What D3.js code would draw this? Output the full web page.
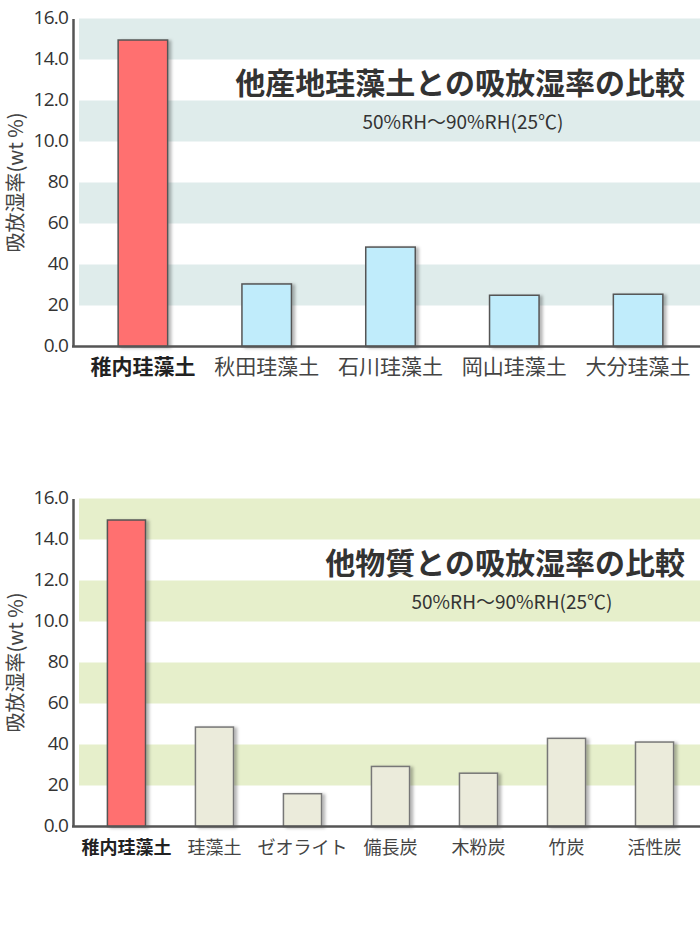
<!DOCTYPE html>
<html>
<head>
<meta charset="utf-8">
<script src="https://cdn.jsdelivr.net/npm/d3@7"></script>
<style>
  body { margin: 0; background: #fff; }
  svg { display: block; }
</style>
</head>
<body>
<div id="vis"></div>
<script>
// tick labels as printed in the original (the "80, 60..." are really 8.0, 6.0...)
let tickValues = [0, 2, 4, 6, 8, 10, 12, 14, 16];
let tickLabels = ['0.0', '20', '40', '60', '80', '10.0', '12.0', '14.0', '16.0'];
let shadedBands = [[2, 4], [6, 8], [10, 12], [14, 16]];

// chart 1 : other diatomite origins
let originNames = ['稚内珪藻土', '秋田珪藻土', '石川珪藻土', '岡山珪藻土', '大分珪藻土'];
let originValues = [14.95, 3.05, 4.85, 2.5, 2.55];

// chart 2 : other materials
let materialNames = ['稚内珪藻土', '珪藻土', 'ゼオライト', '備長炭', '木粉炭', '竹炭', '活性炭'];
let materialValues = [14.95, 4.85, 1.6, 2.93, 2.6, 4.3, 4.12];

let width = 700, height = 948;

let svg = d3.select('#vis')
  .append('svg')
  .attr('width', width)
  .attr('height', height);

// soft shadow behind the bars
let filter = svg.append('defs').append('filter')
  .attr('id', 'shadow')
  .attr('x', '-20%').attr('y', '-10%')
  .attr('width', '150%').attr('height', '130%');
filter.append('feDropShadow')
  .attr('dx', 3).attr('dy', 1)
  .attr('stdDeviation', 1.5)
  .attr('flood-color', '#000')
  .attr('flood-opacity', 0.28);

function drawPanel(opts) {
  let g = svg.append('g')
    .attr('transform', 'translate(0,' + opts.top + ')');

  let y = d3.scaleLinear().domain([0, 16]).range([328, 0]);
  let x = d3.scaleBand()
    .domain(opts.names)
    .range([81, 700])
    .paddingInner(opts.padInner)
    .paddingOuter(0.3);

  // background stripes
  g.selectAll('.band')
    .data(shadedBands)
    .enter().append('rect')
      .attr('x', 79)
      .attr('width', width - 79)
      .attr('y', d => y(d[1]))
      .attr('height', d => y(d[0]) - y(d[1]))
      .style('fill', opts.bandColor);

  // titles
  g.append('text')
    .attr('x', 685)
    .attr('y', opts.titleY)
    .attr('text-anchor', 'end')
    .style('font-family', '"Noto Sans CJK JP", sans-serif')
    .style('font-weight', 'bold')
    .style('font-size', '30px')
    .style('fill', '#333')
    .text(opts.title);

  g.append('text')
    .attr('x', opts.subX)
    .attr('y', opts.titleY + 35)
    .attr('text-anchor', 'middle')
    .style('font-family', '"Noto Sans CJK JP", sans-serif')
    .style('font-size', '19px')
    .style('fill', '#333')
    .text('50%RH〜90%RH(25℃)');

  // bars
  g.selectAll('.bar')
    .data(opts.values)
    .enter().append('rect')
      .attr('x', (d, i) => x(opts.names[i]))
      .attr('width', x.bandwidth())
      .attr('y', d => y(d))
      .attr('height', d => y(0) - y(d))
      .attr('filter', 'url(#shadow)')
      .style('fill', (d, i) => i === 0 ? '#ff7070' : opts.barColor)
      .style('stroke', (d, i) => i === 0 ? '#555' : opts.barStroke)
      .style('stroke-width', 1.5);

  // y axis
  let yAxis = g.append('g')
    .attr('transform', 'translate(73,0)')
    .call(d3.axisLeft(y)
      .tickValues(tickValues)
      .tickFormat((d, i) => tickLabels[i])
      .tickSize(0)
      .tickPadding(5));
  yAxis.select('.domain')
    .attr('stroke', '#555')
    .attr('stroke-width', 2.5);
  yAxis.selectAll('text')
    .attr('dy', '0.25em')
    .style('font-family', '"Open Sans", sans-serif')
    .style('font-size', '19px')
    .style('letter-spacing', '-0.8px')
    .style('fill', '#333');

  // x axis line + labels
  let xAxis = g.append('g')
    .attr('transform', 'translate(0,' + y(0) + ')')
    .call(d3.axisBottom(x).tickSize(0).tickPadding(opts.labelPad));
  xAxis.select('.domain').remove();
  xAxis.append('line')
    .attr('x1', 72).attr('x2', width)
    .attr('stroke', '#555')
    .attr('stroke-width', 2.5);
  xAxis.selectAll('.tick text')
    .attr('dy', '0.71em')
    .style('font-family', '"Noto Sans CJK JP", sans-serif')
    .style('font-size', opts.labelSize + 'px')
    .style('font-weight', (d, i) => i === 0 ? 'bold' : 'normal')
    .style('fill', (d, i) => i === 0 ? '#222' : '#444');

  // y title
  g.append('text')
    .attr('transform', 'translate(23,' + y(8) + ') rotate(-90)')
    .attr('text-anchor', 'middle')
    .style('font-family', '"Noto Sans CJK JP", sans-serif')
    .style('font-size', '20px')
    .style('fill', '#444')
    .text('吸放湿率(wt %)');
}

drawPanel({
  top: 18.5,
  names: originNames,
  values: originValues,
  padInner: 0.6,
  labelSize: 21,
  labelPad: 13,
  bandColor: '#dfeceb',
  barColor: '#c0ecfb',
  barStroke: '#555',
  title: '他産地珪藻土との吸放湿率の比較',
  titleY: 75,
  subX: 463
});

drawPanel({
  top: 498.5,
  names: materialNames,
  values: materialValues,
  padInner: 0.567,
  labelSize: 18,
  labelPad: 15,
  bandColor: '#e6efcb',
  barColor: '#ebebdb',
  barStroke: '#777',
  title: '他物質との吸放湿率の比較',
  titleY: 75,
  subX: 512
});
</script>
</body>
</html>
